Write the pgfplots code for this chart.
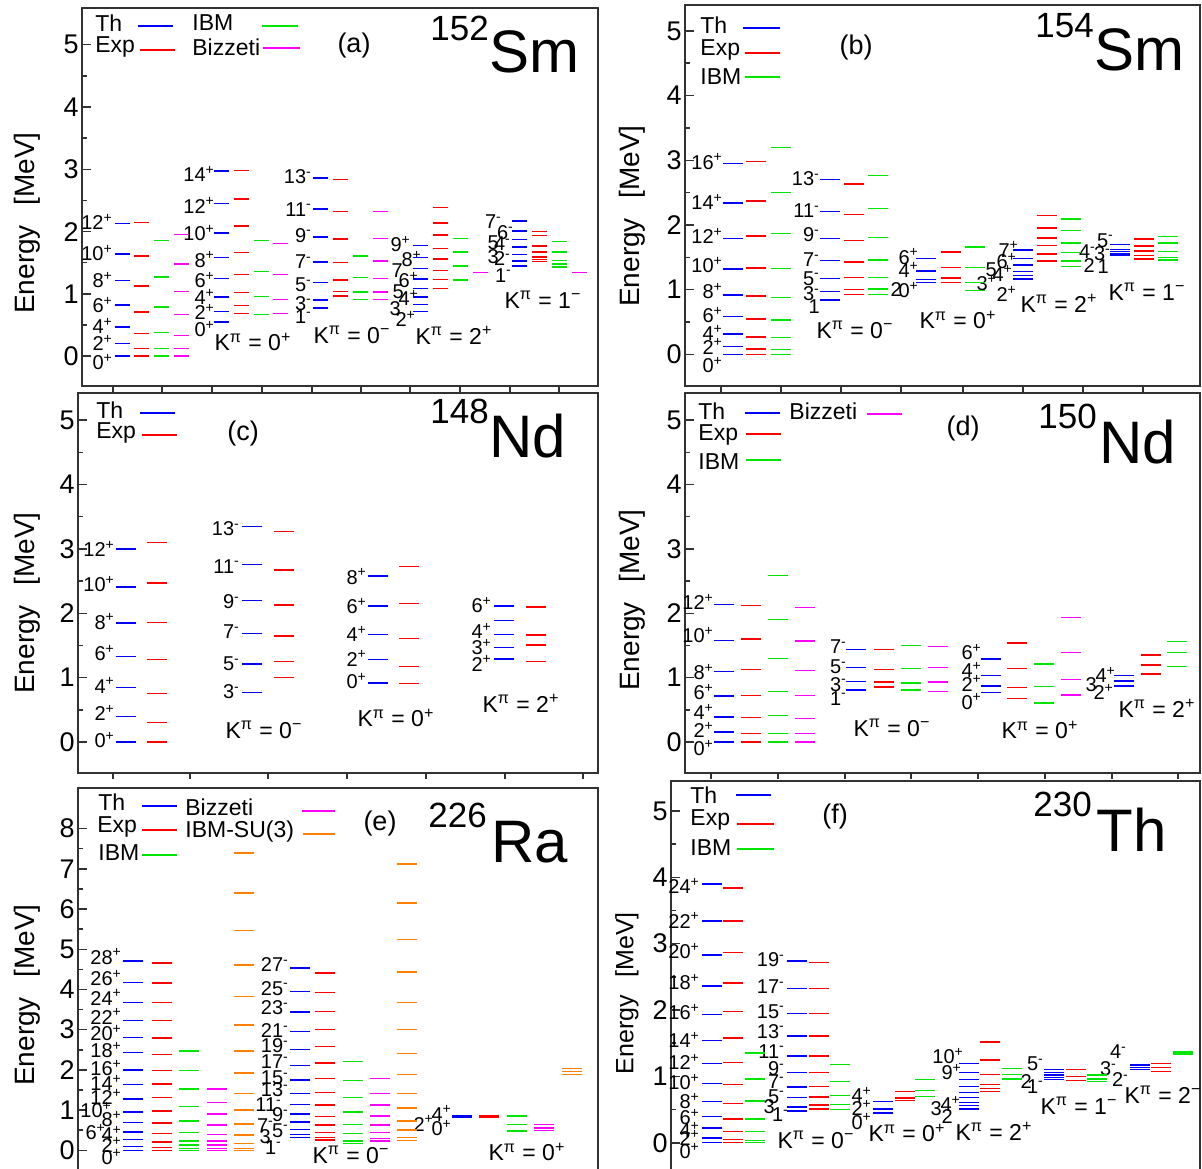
\documentclass[border=0pt]{standalone}
\usepackage{pgfplots}
\pgfplotsset{compat=1.18}
\usepackage{fontspec}
\setmainfont{Liberation Sans}
\definecolor{cB}{RGB}{0,0,255}
\definecolor{cR}{RGB}{255,0,0}
\definecolor{cG}{RGB}{0,230,0}
\definecolor{cM}{RGB}{255,0,255}
\definecolor{cO}{RGB}{255,128,0}
\definecolor{frame}{RGB}{50,50,50}
\newcommand\Pl[1]{#1\textsuperscript{+}}
\newcommand\Mi[1]{#1\textsuperscript{-}}
\newcommand\SL[3]{\node[spin] at (axis cs:#1,#2) {#3};}
\newcommand\Kp[1]{K\textsuperscript{π} = 0\textsuperscript{#1}}
\newcommand\Kq[2]{K\textsuperscript{π} = #1\textsuperscript{#2}}
\tikzset{
  spin/.style={anchor=east, inner sep=0.4pt, font=\fontsize{10}{10}\selectfont},
  leg/.style={anchor=west, inner sep=0pt, font=\fontsize{11.5}{11.5}\selectfont},
  kl/.style={inner sep=0pt, font=\fontsize{11.5}{11.5}\selectfont},
  pl/.style={inner sep=0pt, font=\fontsize{13.5}{13.5}\selectfont},
  yl/.style={rotate=90, inner sep=0pt, font=\fontsize{14}{14}\selectfont},
  sup/.style={anchor=base west, inner sep=0pt, font=\fontsize{17.5}{17.5}\selectfont},
  big/.style={anchor=base west, inner sep=0pt, font=\fontsize{30}{30}\selectfont},
  ll/.style={line width=0.85pt},
}
\pgfplotsset{
  panel/.style={scale only axis, anchor=north west, clip=false,
    axis line style={line width=0.75pt, frame},
    tick style={line width=0.75pt, frame},
    tick align=inside, tick pos=left,
    xtick=\empty, ytick={0,...,5}, minor y tick num=1,
    major tick length=4.5pt, minor tick length=2.5pt,
    yticklabel style={font=\fontsize{13.5}{13.5}\selectfont, inner sep=1.5pt},
    /pgf/number format/assume math mode=true,
    extra x tick labels={},
    extra tick style={tick align=outside, major tick length=3pt},
  },
  lev/.style={only marks, mark=-, color=#1, mark options={line width=0.7pt, solid}},
}
\begin{document}
\begin{tikzpicture}
%% (a) 152Sm
\begin{axis}[panel, at={(41pt,-4pt)}, width=258pt, height=189pt,
  xmin=82, xmax=598, ymin=-0.48, ymax=5.59,
  extra x ticks={113,162,212,262,312,361,410,460,510,559},
  every axis plot/.append style={mark size=3.75pt}]
\addplot[lev=cB] coordinates {(122,0)(122,0.2)(122,0.47)(122,0.82)(122,1.21)(122,1.64)(122,2.13)
 (221,0.55)(221,0.72)(221,0.95)(221,1.25)(221,1.58)(221,1.98)(221,2.45)(221,2.97)
 (320,0.775)(320,0.90)(320,1.18)(320,1.51)(320,1.91)(320,2.36)(320,2.86)
 (420,0.72)(420,0.83)(420,0.95)(420,1.09)(420,1.24)(420,1.41)(420,1.58)(420,1.78)
 (519.5,1.45)(519.5,1.53)(519.5,1.63)(519.5,1.75)(519.5,1.87)(519.5,2.01)(519.5,2.17)};
\addplot[lev=cR] coordinates {(141,0)(141,0.122)(141,0.366)(141,0.707)(141,1.125)(141,1.609)(141,2.149)
 (241,0.685)(241,0.81)(241,1.023)(241,1.31)(241,1.666)(241,2.09)(241,2.52)(241,2.98)
 (340.5,0.963)(340.5,1.041)(340.5,1.221)(340.5,1.505)(340.5,1.879)(340.5,2.327)(340.5,2.833)
 (440,1.086)(440,1.234)(440,1.372)(440,1.559)(440,1.728)(440,1.946)(440,2.139)(440,2.385)
 (539.5,1.52)(539.5,1.55)(539.5,1.59)(539.5,1.67)(539.5,1.77)(539.5,1.94)(539.5,2.0)};
\addplot[lev=cG] coordinates {(161.5,0)(161.5,0.12)(161.5,0.38)(161.5,0.79)(161.5,1.27)(161.5,1.86)
 (261,0.67)(261,0.96)(261,1.36)(261,1.86)
 (360.5,0.91)(360.5,1.03)(360.5,1.26)(360.5,1.61)
 (460,1.22)(460,1.45)(460,1.67)(460,1.89)
 (559,1.43)(559,1.48)(559,1.54)(559,1.67)(559,1.84)};
\addplot[lev=cM] coordinates {(181.5,0)(181.5,0.12)(181.5,0.33)(181.5,0.67)(181.5,1.04)(181.5,1.48)(181.5,1.95)
 (280.5,0.68)(280.5,0.91)(280.5,1.31)(280.5,1.81)
 (380.5,0.91)(380.5,1.03)(380.5,1.25)(380.5,1.53)(380.5,1.89)(380.5,2.32)
 (480,1.34)(579,1.34)};
\SL{114}{-0.1}{\Pl{0}}\SL{114}{0.21}{\Pl{2}}\SL{114}{0.48}{\Pl{4}}\SL{114}{0.82}{\Pl{6}}
\SL{114}{1.22}{\Pl{8}}\SL{114}{1.65}{\Pl{10}}\SL{114}{2.15}{\Pl{12}}
\SL{216}{0.44}{\Pl{0}}\SL{216}{0.71}{\Pl{2}}\SL{216}{0.95}{\Pl{4}}\SL{216}{1.22}{\Pl{6}}
\SL{216}{1.55}{\Pl{8}}\SL{216}{1.98}{\Pl{10}}\SL{216}{2.42}{\Pl{12}}\SL{216}{2.93}{\Pl{14}}
\SL{313}{0.63}{\Mi{1}}\SL{313}{0.845}{\Mi{3}}\SL{313}{1.14}{\Mi{5}}\SL{313}{1.52}{\Mi{7}}
\SL{313}{1.94}{\Mi{9}}\SL{313}{2.36}{\Mi{11}}\SL{313}{2.88}{\Mi{13}}
\SL{412}{1.80}{\Pl{9}}\SL{423}{1.56}{\Pl{8}}\SL{404}{1.38}{7}\SL{420}{1.22}{\Pl{6}}
\SL{405}{1.03}{5}\SL{420}{0.93}{\Pl{4}}\SL{402}{0.77}{3}\SL{417}{0.60}{\Pl{2}}
\SL{503}{2.16}{\Mi{7}}\SL{515}{1.99}{\Mi{6}}\SL{500}{1.82}{5}\SL{512}{1.80}{\Mi{4}}
\SL{500}{1.60}{3}\SL{512}{1.56}{\Mi{2}}\SL{513}{1.30}{\Mi{1}}
\end{axis}
%% (b) 154Sm
\begin{axis}[panel, at={(342.5pt,-2.5pt)}, width=257.5pt, height=190.5pt,
  xmin=685, xmax=1200, ymin=-0.49, ymax=5.40,
  extra x ticks={721,781,841,901,963,1023,1083,1143},
  every axis plot/.append style={mark size=5pt}]
\addplot[lev=cB] coordinates {(733,0)(733,0.124)(733,0.314)(733,0.582)(733,0.918)(733,1.32)(733,1.79)(733,2.34)(733,2.95)
 (829.5,0.84)(829.5,0.97)(829.5,1.175)(829.5,1.45)(829.5,1.79)(829.5,2.21)(829.5,2.70)
 (926,1.11)(926,1.16)(926,1.29)(926,1.48)
 (1023,1.165)(1023,1.216)(1023,1.28)(1023,1.38)(1023,1.48)(1023,1.61)
 (1119.5,1.536)(1119.5,1.56)(1119.5,1.59)(1119.5,1.62)(1119.5,1.70)};
\addplot[lev=cR] coordinates {(756,0)(756,0.082)(756,0.267)(756,0.544)(756,0.903)(756,1.333)(756,1.826)(756,2.37)(756,2.98)
 (854,0.92)(854,1.005)(854,1.186)(854,1.43)(854,1.76)(854,2.165)(854,2.63)
 (950.5,1.11)(950.5,1.18)(950.5,1.34)(950.5,1.58)
 (1047,1.44)(1047,1.55)(1047,1.68)(1047,1.80)(1047,1.95)(1047,2.15)
 (1143.5,1.475)(1143.5,1.526)(1143.5,1.60)(1143.5,1.675)(1143.5,1.78)};
\addplot[lev=cG] coordinates {(781,0)(781,0.077)(781,0.258)(781,0.531)(781,0.88)(781,1.33)(781,1.87)(781,2.5)(781,3.2)
 (877.5,0.92)(877.5,1.01)(877.5,1.19)(877.5,1.46)(877.5,1.81)(877.5,2.25)(877.5,2.76)
 (974.5,0.99)(974.5,1.11)(974.5,1.34)(974.5,1.66)
 (1071,1.355)(1071,1.44)(1071,1.57)(1071,1.72)(1071,1.91)(1071,2.09)
 (1168,1.46)(1168,1.50)(1168,1.59)(1168,1.72)(1168,1.82)};
\SL{724}{-0.165}{\Pl{0}}\SL{724}{0.12}{\Pl{2}}\SL{724}{0.325}{\Pl{4}}\SL{724}{0.61}{\Pl{6}}
\SL{724}{0.98}{\Pl{8}}\SL{724}{1.38}{\Pl{10}}\SL{724}{1.83}{\Pl{12}}\SL{724}{2.36}{\Pl{14}}\SL{724}{2.98}{\Pl{16}}
\SL{821}{0.74}{1}\SL{821}{0.94}{\Mi{3}}\SL{821}{1.175}{\Mi{5}}\SL{821}{1.46}{\Mi{7}}
\SL{821}{1.845}{\Mi{9}}\SL{821}{2.22}{\Mi{11}}\SL{821}{2.71}{\Mi{13}}
\SL{920}{1.51}{\Pl{6}}\SL{920}{1.30}{\Pl{4}}\SL{903}{1.0}{2}\SL{920}{0.99}{\Pl{0}}
\SL{1020}{1.62}{\Pl{7}}\SL{1018}{1.44}{\Pl{6}}\SL{998}{1.31}{5}\SL{1014}{1.25}{\Pl{4}}
\SL{998}{1.10}{\Pl{3}}\SL{1018}{0.93}{\Pl{2}}
\SL{1115}{1.76}{\Mi{5}}\SL{1097}{1.59}{\Mi{4}}\SL{1112}{1.56}{\Mi{3}}\SL{1096}{1.38}{2}\SL{1110}{1.36}{1}
\end{axis}
%% (c) 148Nd
\begin{axis}[panel, at={(39pt,-196.5pt)}, width=260pt, height=190pt,
  xmin=78, xmax=598, ymin=-0.48, ymax=5.42,
  extra x ticks={113,190,268,347,426,505,583},
  every axis plot/.append style={mark size=5pt}]
\addplot[lev=cB] coordinates {(126,0)(126,0.40)(126,0.85)(126,1.325)(126,1.85)(126,2.41)(126,3.0)
 (252,0.77)(252,1.21)(252,1.685)(252,2.20)(252,2.76)(252,3.345)
 (378,0.92)(378,1.28)(378,1.675)(378,2.11)(378,2.58)
 (504,1.29)(504,1.47)(504,1.675)(504,1.89)(504,2.11)};
\addplot[lev=cR] coordinates {(157,0)(157,0.30)(157,0.75)(157,1.28)(157,1.855)(157,2.47)(157,3.10)
 (283.5,1.005)(283.5,1.25)(283.5,1.645)(283.5,2.13)(283.5,2.675)(283.5,3.27)
 (409,0.91)(409,1.17)(409,1.61)(409,2.15)(409,2.73)
 (536,1.25)(536,1.505)(536,1.66)(536,2.10)};
\SL{116}{0.03}{\Pl{0}}\SL{116}{0.45}{\Pl{2}}\SL{116}{0.88}{\Pl{4}}\SL{116}{1.38}{\Pl{6}}
\SL{116}{1.87}{\Pl{8}}\SL{116}{2.45}{\Pl{10}}\SL{116}{3.0}{\Pl{12}}
\SL{241}{0.78}{\Mi{3}}\SL{241}{1.22}{\Mi{5}}\SL{241}{1.71}{\Mi{7}}\SL{241}{2.18}{\Mi{9}}
\SL{241}{2.73}{\Mi{11}}\SL{241}{3.31}{\Mi{13}}
\SL{368}{0.95}{\Pl{0}}\SL{368}{1.3}{\Pl{2}}\SL{368}{1.68}{\Pl{4}}\SL{368}{2.11}{\Pl{6}}\SL{368}{2.57}{\Pl{8}}
\SL{493}{1.22}{\Pl{2}}\SL{493}{1.48}{\Pl{3}}\SL{493}{1.72}{\Pl{4}}\SL{493}{2.13}{\Pl{6}}
\end{axis}
%% (d) 150Nd
\begin{axis}[panel, at={(342.5pt,-196.5pt)}, width=257.5pt, height=190pt,
  xmin=685, xmax=1200, ymin=-0.48, ymax=5.42,
  extra x ticks={711,778,845,911,978,1045,1112,1178},
  every axis plot/.append style={mark size=5pt}]
\addplot[lev=cB] coordinates {(724,0)(724,0.155)(724,0.387)(724,0.717)(724,1.10)(724,1.58)(724,2.14)
 (856,0.81)(856,0.94)(856,1.155)(856,1.44)
 (991,0.77)(991,0.87)(991,1.03)(991,1.29)
 (1124,0.87)(1124,0.95)(1124,1.03)};
\addplot[lev=cR] coordinates {(751,0)(751,0.13)(751,0.381)(751,0.72)(751,1.13)(751,1.60)(751,2.12)
 (884,0.853)(884,0.934)(884,1.13)(884,1.44)
 (1017,0.676)(1017,0.851)(1017,1.138)(1017,1.54)
 (1151,1.06)(1151,1.196)(1151,1.35)};
\addplot[lev=cG] coordinates {(778,0)(778,0.13)(778,0.41)(778,0.79)(778,1.30)(778,1.90)(778,2.59)
 (911,0.81)(911,0.92)(911,1.14)(911,1.50)
 (1044,0.61)(1044,0.86)(1044,1.21)
 (1177,1.17)(1177,1.39)(1177,1.56)};
\addplot[lev=cM] coordinates {(804.5,0)(804.5,0.13)(804.5,0.37)(804.5,0.72)(804.5,1.11)(804.5,1.57)(804.5,2.09)
 (938,0.79)(938,0.93)(938,1.16)(938,1.48)
 (1071,0.73)(1071,0.97)(1071,1.39)(1071,1.93)};
\SL{715}{-0.09}{\Pl{0}}\SL{715}{0.19}{\Pl{2}}\SL{715}{0.47}{\Pl{4}}\SL{715}{0.78}{\Pl{6}}
\SL{715}{1.09}{\Pl{8}}\SL{715}{1.66}{\Pl{10}}\SL{715}{2.18}{\Pl{12}}
\SL{848}{0.68}{\Mi{1}}\SL{848}{0.90}{\Mi{3}}\SL{848}{1.17}{\Mi{5}}\SL{848}{1.48}{\Mi{7}}
\SL{983}{0.63}{\Pl{0}}\SL{983}{0.91}{\Pl{2}}\SL{983}{1.12}{\Pl{4}}\SL{983}{1.40}{\Pl{6}}
\SL{1098}{0.89}{3}\SL{1117}{1.04}{\Pl{4}}\SL{1115}{0.78}{\Pl{2}}
\end{axis}
%% (e) 226Ra
\begin{axis}[panel, at={(39pt,-394pt)}, width=260pt, height=193.5pt,
  xmin=78, xmax=598, ymin=-0.614, ymax=9.01, ytick={0,...,8},
  every axis plot/.append style={mark size=5pt}]
\addplot[lev=cB] coordinates {(133,0)(133,0.09)(133,0.27)(133,0.46)(133,0.69)(133,0.95)(133,1.28)(133,1.63)(133,2.0)(133,2.44)(133,2.81)(133,3.23)(133,3.68)(133,4.18)(133,4.71)
 (300,0.315)(300,0.40)(300,0.52)(300,0.70)(300,0.90)(300,1.145)(300,1.42)(300,1.75)(300,2.11)(300,2.51)(300,2.95)(300,3.44)(300,3.95)(300,4.53)
 (462,0.81)(462,0.84)(462,0.87)};
\addplot[lev=cR] coordinates {(161.5,0)(161.5,0.068)(161.5,0.212)(161.5,0.417)(161.5,0.676)(161.5,0.975)(161.5,1.31)(161.5,1.65)(161.5,1.98)(161.5,2.39)(161.5,2.79)(161.5,3.23)(161.5,3.68)(161.5,4.16)(161.5,4.66)
 (325,0.254)(325,0.322)(325,0.447)(325,0.627)(325,0.84)(325,1.13)(325,1.44)(325,1.79)(325,2.17)(325,2.58)(325,3.01)(325,3.45)(325,3.93)(325,4.41)
 (489,0.825)(489,0.86)};
\addplot[lev=cG] coordinates {(188.5,0)(188.5,0.05)(188.5,0.13)(188.5,0.23)(188.5,0.44)(188.5,0.73)(188.5,1.09)(188.5,1.53)(188.5,1.98)(188.5,2.47)
 (352.5,0.17)(352.5,0.23)(352.5,0.42)(352.5,0.65)(352.5,0.95)(352.5,1.31)(352.5,1.73)(352.5,2.21)
 (517,0.48)(517,0.65)(517,0.85)};
\addplot[lev=cM] coordinates {(216.5,0)(216.5,0.05)(216.5,0.13)(216.5,0.23)(216.5,0.40)(216.5,0.63)(216.5,0.90)(216.5,1.19)(216.5,1.53)
 (380,0.23)(380,0.30)(380,0.44)(380,0.63)(380,0.85)(380,1.13)(380,1.42)(380,1.79)
 (544,0.49)(544,0.56)(544,0.65)};
\addplot[lev=cO] coordinates {(243.5,0)(243.5,0.05)(243.5,0.17)(243.5,0.38)(243.5,0.66)(243.5,1.0)(243.5,1.42)(243.5,1.92)(243.5,2.47)(243.5,3.12)(243.5,3.83)(243.5,4.61)(243.5,5.47)(243.5,6.40)(243.5,7.39)
 (407,0.24)(407,0.32)(407,0.51)(407,0.73)(407,1.05)(407,1.42)(407,1.88)(407,2.41)(407,3.01)(407,3.68)(407,4.43)(407,5.25)(407,6.15)(407,7.12)
 (572,1.88)(572,1.96)(572,2.04)};
\SL{123}{-0.17}{\Pl{0}}\SL{123}{0.14}{\Pl{2}}\SL{123}{0.40}{\Pl{4}}\SL{107}{0.46}{\Pl{6}}
\SL{123}{0.78}{\Pl{8}}\SL{113}{1.0}{\Pl{10}}\SL{123}{1.32}{\Pl{12}}\SL{123}{1.67}{\Pl{14}}
\SL{123}{2.04}{\Pl{16}}\SL{123}{2.50}{\Pl{18}}\SL{123}{2.91}{\Pl{20}}\SL{123}{3.33}{\Pl{22}}
\SL{123}{3.80}{\Pl{24}}\SL{123}{4.28}{\Pl{26}}\SL{123}{4.82}{\Pl{28}}
\SL{290}{4.62}{\Mi{27}}\SL{290}{4.03}{\Mi{25}}\SL{290}{3.54}{\Mi{23}}\SL{290}{2.97}{\Mi{21}}
\SL{290}{2.60}{\Mi{19}}\SL{290}{2.20}{\Mi{17}}\SL{290}{1.80}{\Mi{15}}\SL{290}{1.50}{\Mi{13}}
\SL{283}{1.13}{\Mi{11}}\SL{290}{0.88}{\Mi{9}}\SL{275}{0.62}{\Mi{7}}\SL{290}{0.50}{\Mi{5}}
\SL{272}{0.35}{3}\SL{283}{0.08}{\Mi{1}}
\SL{435}{0.67}{\Pl{2}}\SL{453}{0.92}{\Pl{4}}\SL{453}{0.55}{\Pl{0}}
\end{axis}
%% (f) 230Th
\begin{axis}[panel, at={(335.5pt,-390.5pt)}, width=264.5pt, height=197pt,
  xmin=671, xmax=1200, ymin=-0.486, ymax=5.45,
  every axis plot/.append style={mark size=5pt}]
\addplot[lev=cB] coordinates {(711.5,0)(711.5,0.071)(711.5,0.22)(711.5,0.40)(711.5,0.62)(711.5,0.89)(711.5,1.19)(711.5,1.54)(711.5,1.93)(711.5,2.36)(711.5,2.83)(711.5,3.34)(711.5,3.90)
 (797,0.48)(797,0.54)(797,0.68)(797,0.84)(797,1.06)(797,1.31)(797,1.61)(797,1.95)(797,2.32)(797,2.74)
 (883,0.45)(883,0.51)(883,0.62)
 (968.5,0.51)(968.5,0.56)(968.5,0.61)(968.5,0.68)(968.5,0.76)(968.5,0.85)(968.5,0.95)(968.5,1.06)(968.5,1.19)
 (1054,0.95)(1054,0.98)(1054,1.02)(1054,1.06)(1054,1.10)
 (1139.5,1.10)(1139.5,1.13)(1139.5,1.17)};
\addplot[lev=cR] coordinates {(733,0)(733,0.053)(733,0.174)(733,0.357)(733,0.594)(733,0.88)(733,1.208)(733,1.577)(733,1.98)(733,2.41)(733,2.87)(733,3.34)(733,3.84)
 (819,0.508)(819,0.572)(819,0.687)(819,0.852)(819,1.06)(819,1.31)(819,1.61)(819,1.95)(819,2.32)(819,2.72)
 (904.5,0.635)(904.5,0.677)(904.5,0.775)
 (990,0.77)(990,0.82)(990,0.88)(990,1.03)(990,1.25)(990,1.52)
 (1075.5,0.94)(1075.5,1.0)(1075.5,1.10)
 (1161,1.07)(1161,1.13)(1161,1.19)};
\addplot[lev=cG] coordinates {(755,0)(755,0.036)(755,0.17)(755,0.36)(755,0.63)(755,0.96)(755,1.35)
 (840,0.50)(840,0.58)(840,0.71)(840,0.92)(840,1.18)
 (925,0.70)(925,0.79)(925,0.95)
 (1011.5,0.96)(1011.5,1.03)(1011.5,1.12)
 (1097,0.92)(1097,0.96)(1097,1.02)
 (1182.5,1.34)(1182.5,1.37)};
\SL{701}{3.87}{\Pl{24}}\SL{701}{3.35}{\Pl{22}}\SL{701}{2.89}{\Pl{20}}\SL{701}{2.42}{\Pl{18}}
\SL{701}{1.97}{\Pl{16}}\SL{701}{1.55}{\Pl{14}}\SL{701}{1.22}{\Pl{12}}\SL{701}{0.91}{\Pl{10}}
\SL{701}{0.63}{\Pl{8}}\SL{701}{0.39}{\Pl{6}}\SL{701}{0.19}{\Pl{4}}\SL{701}{0.07}{\Pl{2}}\SL{701}{-0.12}{\Pl{0}}
\SL{786}{2.76}{\Mi{19}}\SL{786}{2.35}{\Mi{17}}\SL{786}{1.98}{\Mi{15}}\SL{786}{1.68}{\Mi{13}}
\SL{786}{1.38}{\Mi{11}}\SL{786}{1.12}{\Mi{9}}\SL{786}{0.92}{\Mi{7}}\SL{786}{0.70}{\Mi{5}}
\SL{776}{0.54}{3}\SL{790}{0.42}{\Mi{1}}
\SL{873}{0.72}{\Pl{4}}\SL{873}{0.52}{\Pl{2}}\SL{873}{0.32}{\Pl{0}}
\SL{965}{1.31}{\Pl{10}}\SL{963}{1.07}{\Pl{9}}\SL{943}{0.52}{3}\SL{962}{0.58}{\Pl{4}}\SL{954}{0.40}{2}
\SL{1045}{1.19}{\Mi{5}}\SL{1033}{0.92}{2}\SL{1045}{0.85}{\Mi{1}}
\SL{1128}{1.37}{\Mi{4}}\SL{1118}{1.12}{\Mi{3}}\SL{1130}{0.95}{\Mi{2}}
\end{axis}
%% decorations in pixel coordinates
\begin{scope}[x=0.5pt,y=-0.5pt]
% y labels
\node[yl] at (27,223) {Energy\hspace{0.7em}[MeV]};
\node[yl] at (632,216) {Energy\hspace{0.7em}[MeV]};
\node[yl] at (27,603) {Energy\hspace{0.7em}[MeV]};
\node[yl] at (632,600) {Energy\hspace{0.7em}[MeV]};
\node[yl] at (27,995) {Energy\hspace{0.7em}[MeV]};
\node[yl, font=\fontsize{12.5}{12.5}\selectfont] at (627,993) {Energy\hspace{0.7em}[MeV]};
% panel letters
\node[pl] at (354,46) {(a)};
\node[pl] at (856,48) {(b)};
\node[pl] at (243,433) {(c)};
\node[pl] at (963,428) {(d)};
\node[pl] at (380,823) {(e)};
\node[pl] at (835,816) {(f)};
% nuclide names
\node[sup] at (430,40) {152};\node[big] at (489,72) {Sm};
\node[sup] at (1035,37) {154};\node[big] at (1094,70) {Sm};
\node[sup] at (430,423) {148};\node[big] at (489,457) {Nd};
\node[sup] at (1038,428) {150};\node[big] at (1099,463) {Nd};
\node[sup] at (428,827) {226};\node[big] at (491,862) {Ra};
\node[sup] at (1033,816) {230};\node[big] at (1096,851) {Th};
% K labels
\node[kl] at (253,342) {\Kp{+}};
\node[kl] at (352,335) {\Kp{−}};
\node[kl] at (454,335) {\Kq{2}{+}};
\node[kl] at (543,300) {\Kq{1}{−}};
\node[kl] at (855,330) {\Kp{−}};
\node[kl] at (958,320) {\Kp{+}};
\node[kl] at (1059,303) {\Kq{2}{+}};
\node[kl] at (1147,292) {\Kq{1}{−}};
\node[kl] at (264,730) {\Kp{−}};
\node[kl] at (396,718) {\Kp{+}};
\node[kl] at (521,703) {\Kq{2}{+}};
\node[kl] at (892,728) {\Kp{−}};
\node[kl] at (1040,730) {\Kp{+}};
\node[kl] at (1157,708) {\Kq{2}{+}};
\node[kl] at (351,1155) {\Kp{−}};
\node[kl] at (527,1152) {\Kp{+}};
\node[kl] at (816,1140) {\Kp{−}};
\node[kl] at (907,1133) {\Kp{+}};
\node[kl] at (994,1131) {\Kq{2}{+}};
\node[kl] at (1079,1106) {\Kq{1}{−}};
\node[kl] at (1163,1095) {\Kq{2}{−}};
% legends
\node[leg] at (95,23) {Th}; \draw[ll,cB] (138,26)--(173,26);
\node[leg] at (192,23) {IBM}; \draw[ll,cG] (262,26)--(298,26);
\node[leg] at (95,47) {Exp}; \draw[ll,cR] (140,50)--(175,50);
\node[leg] at (192,47) {Bizzeti}; \draw[ll,cM] (263,48)--(300,48);
\node[leg] at (700,25) {Th}; \draw[ll,cB] (743,28)--(780,28);
\node[leg] at (700,50) {Exp}; \draw[ll,cR] (745,53)--(780,53);
\node[leg] at (700,77) {IBM}; \draw[ll,cG] (745,77)--(780,77);
\node[leg] at (96,410) {Th}; \draw[ll,cB] (140,413)--(175,413);
\node[leg] at (96,433) {Exp}; \draw[ll,cR] (142,435)--(177,435);
\node[leg] at (698,411) {Th}; \draw[ll,cB] (745,413)--(780,413);
\node[leg] at (789,411) {Bizzeti}; \draw[ll,cM] (867,414)--(902,414);
\node[leg] at (698,435) {Exp}; \draw[ll,cR] (746,434)--(781,434);
\node[leg] at (698,462) {IBM}; \draw[ll,cG] (746,460)--(781,460);
\node[leg] at (98,802) {Th}; \draw[ll,cB] (142,806)--(177,806);
\node[leg] at (97,827) {Exp}; \draw[ll,cR] (142,830)--(177,830);
\node[leg] at (98,853) {IBM}; \draw[ll,cG] (142,855)--(177,855);
\node[leg] at (185,807) {Bizzeti}; \draw[ll,cM] (302,811)--(335,811);
\node[leg] at (185,832) {IBM-SU(3)}; \draw[ll,cO] (303,834)--(335,834);
\node[leg] at (690,795) {Th}; \draw[ll,cB] (736,795)--(771,795);
\node[leg] at (690,820) {Exp}; \draw[ll,cR] (737,824)--(774,824);
\node[leg] at (690,848) {IBM}; \draw[ll,cG] (737,849)--(774,849);
\end{scope}
\pgfresetboundingbox
\path (0,0) rectangle (601pt,-584pt);
\end{tikzpicture}
\end{document}
